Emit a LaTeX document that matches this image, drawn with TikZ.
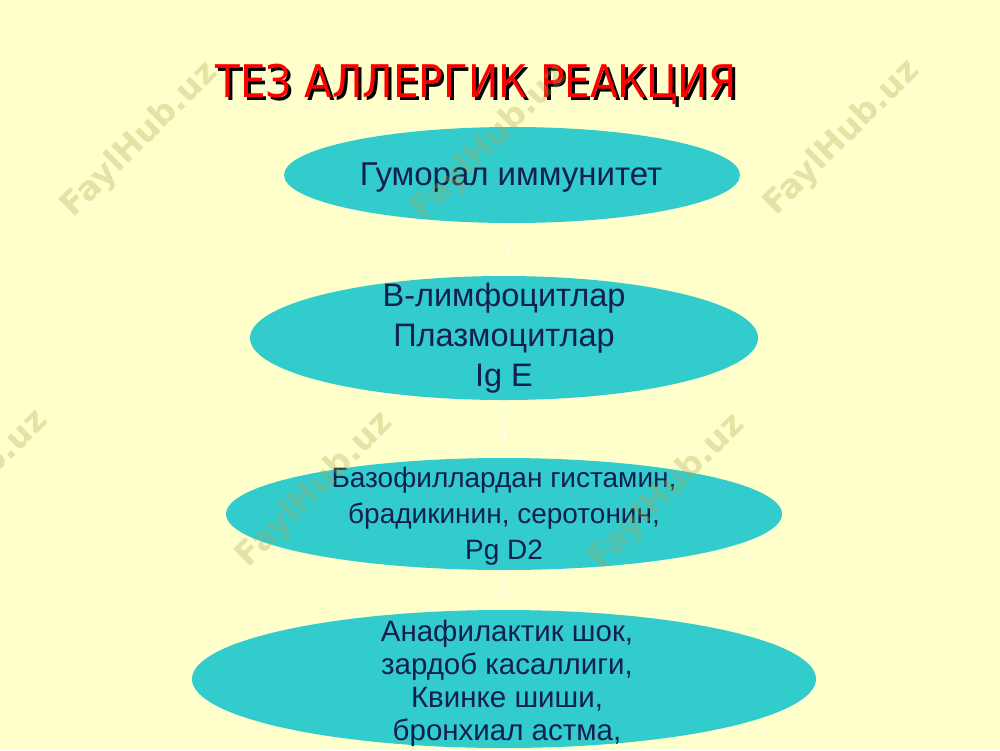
\documentclass[tikz,border=0pt]{standalone}
\usepackage{fontspec}
\setmainfont{Liberation Sans}
\newfontfamily\titlefont[FakeStretch=0.9]{DejaVu Sans}
\newfontfamily\wmfont{DejaVu Sans}
\usetikzlibrary{shapes.geometric,arrows.meta}
\definecolor{bg}{HTML}{FFFFCC}
\definecolor{teal}{HTML}{33CCCC}
\definecolor{ink}{HTML}{12204F}
\definecolor{wm}{HTML}{A8A450}
\tikzset{
  oval/.style={ellipse, fill=teal, draw=none, inner sep=0pt},
  lbl/.style={text=ink, align=center, inner sep=0pt},
  wmark/.style={text=wm, text opacity=0.3, font=\wmfont\bfseries\fontsize{33}{33}\selectfont, rotate=45},
  faint/.style={draw=white, draw opacity=0.55, line width=0.8pt, -{Stealth[length=5pt,width=6pt]}},
  ttl/.style={font=\titlefont\fontsize{45}{45}\selectfont, anchor=base, inner sep=0pt}
}
\begin{document}
\begin{tikzpicture}[x=1pt,y=-1pt]
\fill[bg] (0,0) rectangle (1000,750);
\useasboundingbox (0,0) rectangle (1000,750);
% title
\node[ttl, text=black] at (479,100) {ТЕЗ АЛЛЕРГИК РЕАКЦИЯ};
\node[ttl, text=red] (title) at (476,97) {ТЕЗ АЛЛЕРГИК РЕАКЦИЯ};
% ellipses
\node[oval, minimum width=456pt, minimum height=96pt] (e1) at (512,175) {};
\node[oval, minimum width=508pt, minimum height=124pt] (e2) at (504,338) {};
\node[oval, minimum width=556pt, minimum height=112pt] (e3) at (504,514) {};
\node[oval, minimum width=624pt, minimum height=138pt] (e4) at (504,679) {};
\node[lbl, font=\fontsize{33}{33}\selectfont] (t1) at (511,178) {Гуморал иммунитет};
\node[lbl, font=\fontsize{32.5}{40}\selectfont] (t2) at (504,338) {В-лимфоцитлар\\Плазмоцитлар\\Ig E};
\node[lbl, font=\fontsize{28}{36}\selectfont] (t3) at (504,516) {Базофиллардан гистамин,\\брадикинин, серотонин,\\Pg D2};
\node[lbl, font=\fontsize{29.5}{33}\selectfont] (t4) at (507,683) {Анафилактик шок,\\зардоб касаллиги,\\Квинке шиши,\\бронхиал астма,};
% faint arrows
\draw[faint, shorten <=12pt, shorten >=22pt] (e1.south) -- (e2.north);
\draw[faint, shorten <=12pt, shorten >=18pt] (e2.south) -- (e3.north);
\draw[faint, shorten <=10pt, shorten >=14pt] (e3.south) -- (e4.north);
% watermarks
\node[wmark] (w1) at (140,140) {FaylHub.uz};
\node[wmark] (w2) at (490,143) {FaylHub.uz};
\node[wmark] (w3) at (842,138) {FaylHub.uz};
\node[wmark] (w4) at (-30,488) {FaylHub.uz};
\node[wmark] (w5) at (315,490) {FaylHub.uz};
\node[wmark] (w6) at (667,492) {FaylHub.uz};
\end{tikzpicture}
\end{document}
